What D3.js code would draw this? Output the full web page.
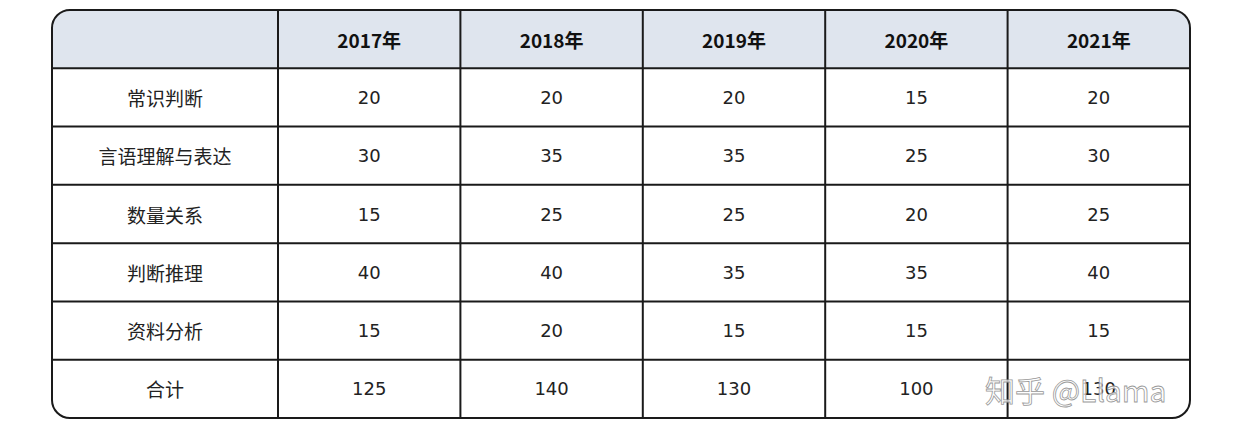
<!DOCTYPE html>
<html><head><meta charset="utf-8">
<script src="https://cdn.jsdelivr.net/npm/d3@7"></script>
<style>body{margin:0;background:#fff}</style>
</head><body><div id="chart"></div>
<script>
const YEARS = ['2017年','2018年','2019年','2020年','2021年']
const SUBJECTS = ['常识判断','言语理解与表达','数量关系','判断推理','资料分析','合计']
const Y2017 = [20,30,15,40,15,125]
const Y2018 = [20,35,25,40,20,140]
const Y2019 = [20,35,25,35,15,130]
const Y2020 = [15,25,20,35,15,100]
const Y2021 = [20,30,25,40,15,130]
const COLS = [Y2017,Y2018,Y2019,Y2020,Y2021]

const W = 1242, H = 436
const L = 52, R = 1190, T = 10, B = 418, FIRST = 278

let svg = d3.select('#chart').append('svg').attr('width', W).attr('height', H)

let x = d3.scaleBand().domain(YEARS).range([FIRST, R])
let y = d3.scaleBand().domain(['head'].concat(SUBJECTS)).range([T, B])

svg.append('clipPath').attr('id','clip').append('rect')
    .attr('x', L).attr('y', T).attr('width', R-L).attr('height', B-T).attr('rx', 18)

let g = svg.append('g').attr('clip-path','url(#clip)')
g.append('rect').attr('x', L).attr('y', T).attr('width', R-L).attr('height', B-T).attr('fill','#fff')
g.append('rect').attr('x', L).attr('y', T).attr('width', R-L).attr('height', y.bandwidth()).attr('fill','#dfe5ee')

// grid lines
let hl = y.domain().slice(1).map(d=>y(d))
g.selectAll('line.h').data(hl).enter().append('line')
    .attr('x1', L).attr('x2', R).attr('y1', d=>d).attr('y2', d=>d)
    .attr('stroke','#1a1a1a').attr('stroke-width',2)
let vl = [FIRST].concat(YEARS.slice(1).map(d=>x(d)))
g.selectAll('line.v').data(vl).enter().append('line')
    .attr('y1', T).attr('y2', B).attr('x1', d=>d).attr('x2', d=>d)
    .attr('stroke','#1a1a1a').attr('stroke-width',2)

svg.append('rect').attr('x', L).attr('y', T).attr('width', R-L).attr('height', B-T).attr('rx', 18)
    .attr('fill','none').attr('stroke','#1a1a1a').attr('stroke-width',2)

const font = '"Noto Sans CJK SC", "DejaVu Sans", sans-serif'

svg.selectAll('text.yr').data(YEARS).enter().append('text')
    .attr('x', d=>x(d)+x.bandwidth()/2).attr('y', y('head')+y.bandwidth()/2)
    .attr('text-anchor','middle').attr('dominant-baseline','central')
    .attr('font-family', font).attr('font-weight','bold').attr('font-size',19).attr('fill','#111')
    .text(d=>d)

svg.selectAll('text.sub').data(SUBJECTS).enter().append('text')
    .attr('x', (L+FIRST)/2).attr('y', d=>y(d)+y.bandwidth()/2)
    .attr('text-anchor','middle').attr('dominant-baseline','central')
    .attr('font-family', font).attr('font-size',19).attr('fill','#222')
    .text(d=>d)

COLS.forEach((col,i)=>{
    svg.selectAll('text.c'+i).data(col).enter().append('text')
        .attr('x', x(YEARS[i])+x.bandwidth()/2).attr('y', (d,j)=>y(SUBJECTS[j])+y.bandwidth()/2)
        .attr('text-anchor','middle').attr('dominant-baseline','central')
        .attr('font-family','"DejaVu Sans", sans-serif').attr('font-size',18).attr('fill','#222')
        .text(d=>d)
})

svg.append('text').attr('x', 985).attr('y', 389).attr('dominant-baseline','central')
    .attr('font-family', font).attr('font-size',30).attr('fill','#fff').attr('fill-opacity',0.75)
    .attr('stroke','#999').attr('stroke-width',0.8)
    .text('知乎 @Llama')
</script></body></html>
